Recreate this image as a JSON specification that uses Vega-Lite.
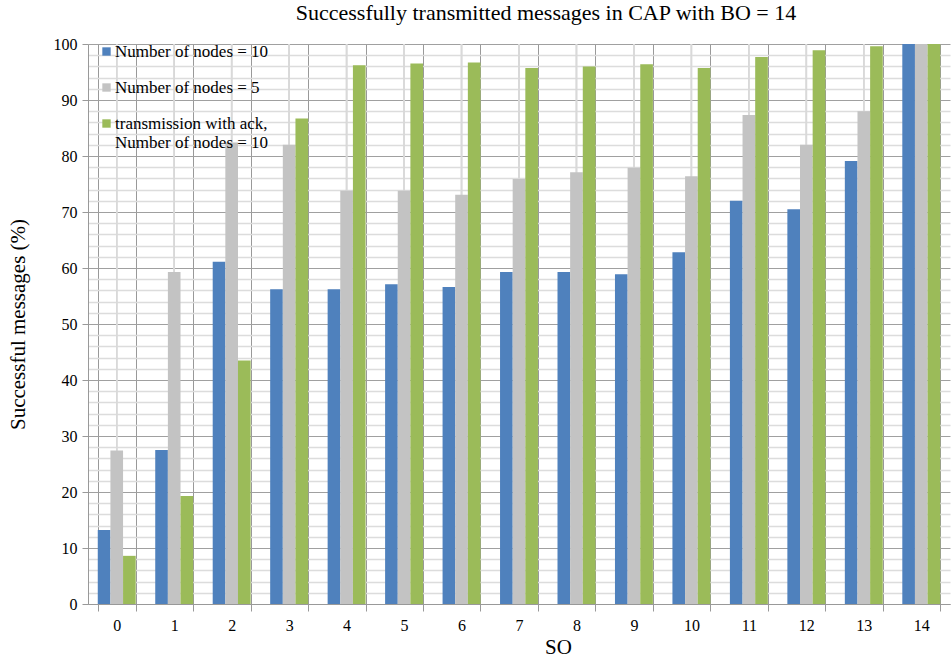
{
  "$schema": "https://vega.github.io/schema/vega-lite/v6.json",
  "width": 862,
  "height": 560,
  "autosize": {"type": "none"},
  "padding": {"left": 88, "top": 44, "right": 2, "bottom": 55},
  "background": "white",
  "title": {
    "text": "Successfully transmitted messages in CAP with BO = 14",
    "font": "Liberation Serif",
    "fontSize": 22,
    "fontWeight": "normal",
    "color": "#000000",
    "anchor": "middle",
    "dx": 27,
    "offset": 11
  },
  "config": {
    "view": {"stroke": null},
    "font": "Liberation Serif",
    "axis": {"titleFont": "Liberation Serif", "labelFont": "Liberation Serif"},
    "legend": {"labelFont": "Liberation Serif"}
  },
  "data": {
    "values": [
      {"SO": "0", "series": "Number of nodes = 10", "value": 13.2},
      {"SO": "0", "series": "Number of nodes = 5", "value": 27.4},
      {"SO": "0", "series": "transmission with ack, Number of nodes = 10", "value": 8.6},
      {"SO": "1", "series": "Number of nodes = 10", "value": 27.5},
      {"SO": "1", "series": "Number of nodes = 5", "value": 59.3},
      {"SO": "1", "series": "transmission with ack, Number of nodes = 10", "value": 19.3},
      {"SO": "2", "series": "Number of nodes = 10", "value": 61.1},
      {"SO": "2", "series": "Number of nodes = 5", "value": 82.4},
      {"SO": "2", "series": "transmission with ack, Number of nodes = 10", "value": 43.5},
      {"SO": "3", "series": "Number of nodes = 10", "value": 56.2},
      {"SO": "3", "series": "Number of nodes = 5", "value": 82.0},
      {"SO": "3", "series": "transmission with ack, Number of nodes = 10", "value": 86.7},
      {"SO": "4", "series": "Number of nodes = 10", "value": 56.2},
      {"SO": "4", "series": "Number of nodes = 5", "value": 73.8},
      {"SO": "4", "series": "transmission with ack, Number of nodes = 10", "value": 96.2},
      {"SO": "5", "series": "Number of nodes = 10", "value": 57.1},
      {"SO": "5", "series": "Number of nodes = 5", "value": 73.8},
      {"SO": "5", "series": "transmission with ack, Number of nodes = 10", "value": 96.5},
      {"SO": "6", "series": "Number of nodes = 10", "value": 56.6},
      {"SO": "6", "series": "Number of nodes = 5", "value": 73.1},
      {"SO": "6", "series": "transmission with ack, Number of nodes = 10", "value": 96.7},
      {"SO": "7", "series": "Number of nodes = 10", "value": 59.3},
      {"SO": "7", "series": "Number of nodes = 5", "value": 75.9},
      {"SO": "7", "series": "transmission with ack, Number of nodes = 10", "value": 95.7},
      {"SO": "8", "series": "Number of nodes = 10", "value": 59.3},
      {"SO": "8", "series": "Number of nodes = 5", "value": 77.1},
      {"SO": "8", "series": "transmission with ack, Number of nodes = 10", "value": 96.0},
      {"SO": "9", "series": "Number of nodes = 10", "value": 58.9},
      {"SO": "9", "series": "Number of nodes = 5", "value": 77.9},
      {"SO": "9", "series": "transmission with ack, Number of nodes = 10", "value": 96.4},
      {"SO": "10", "series": "Number of nodes = 10", "value": 62.8},
      {"SO": "10", "series": "Number of nodes = 5", "value": 76.4},
      {"SO": "10", "series": "transmission with ack, Number of nodes = 10", "value": 95.7},
      {"SO": "11", "series": "Number of nodes = 10", "value": 72.0},
      {"SO": "11", "series": "Number of nodes = 5", "value": 87.3},
      {"SO": "11", "series": "transmission with ack, Number of nodes = 10", "value": 97.7},
      {"SO": "12", "series": "Number of nodes = 10", "value": 70.5},
      {"SO": "12", "series": "Number of nodes = 5", "value": 82.0},
      {"SO": "12", "series": "transmission with ack, Number of nodes = 10", "value": 98.9},
      {"SO": "13", "series": "Number of nodes = 10", "value": 79.1},
      {"SO": "13", "series": "Number of nodes = 5", "value": 88.0},
      {"SO": "13", "series": "transmission with ack, Number of nodes = 10", "value": 99.6},
      {"SO": "14", "series": "Number of nodes = 10", "value": 100},
      {"SO": "14", "series": "Number of nodes = 5", "value": 100},
      {"SO": "14", "series": "transmission with ack, Number of nodes = 10", "value": 100}
    ]
  },
  "layer": [
    {
      "mark": {"type": "rule", "color": "#d9d9d9", "strokeWidth": 1.5},
      "encoding": {
        "x": {
          "field": "SO", "type": "nominal", "sort": null,
          "scale": {"paddingInner": 0.34, "paddingOuter": 0.17},
          "axis": {
            "title": "SO",
            "titleFont": "Liberation Serif",
            "titleFontSize": 21,
            "titleFontWeight": "normal",
            "titleColor": "#000000",
            "titleX": 470,
            "titleY": 43,
            "titleBaseline": "middle",
            "labelAngle": 0,
            "labelFont": "Liberation Serif",
            "labelFontSize": 16,
            "labelColor": "#000000",
            "labelPadding": 6,
            "tickBand": "extent",
            "tickColor": "#999999",
            "tickSize": 7,
            "domainColor": "#999999",
            "grid": true,
            "gridColor": "#999999",
            "gridWidth": 1
          }
        }
      }
    },
    {
      "mark": {"type": "bar"},
      "encoding": {
        "x": {
          "field": "SO", "type": "nominal", "sort": null,
          "scale": {"paddingInner": 0.34, "paddingOuter": 0.17}
        },
        "xOffset": {
          "field": "series", "type": "nominal",
          "scale": {"domain": ["Number of nodes = 10", "Number of nodes = 5", "transmission with ack, Number of nodes = 10"], "paddingInner": 0, "paddingOuter": 0}
        },
        "y": {
          "field": "value", "type": "quantitative",
          "scale": {"domain": [0, 100], "nice": false},
          "axis": {
            "title": "Successful messages (%)",
            "titleFont": "Liberation Serif",
            "titleFontSize": 21,
            "titleFontWeight": "normal",
            "titleColor": "#000000",
            "titleX": -70,
            "titleY": 280,
            "titleBaseline": "middle",
            "values": [0, 2, 4, 6, 8, 10, 12, 14, 16, 18, 20, 22, 24, 26, 28, 30, 32, 34, 36, 38, 40, 42, 44, 46, 48, 50, 52, 54, 56, 58, 60, 62, 64, 66, 68, 70, 72, 74, 76, 78, 80, 82, 84, 86, 88, 90, 92, 94, 96, 98, 100],
            "labelExpr": "datum.value % 10 === 0 ? datum.label : ''",
            "labelFont": "Liberation Serif",
            "labelFontSize": 16,
            "labelColor": "#000000",
            "labelPadding": 5,
            "tickSize": 6,
            "tickColor": {"condition": {"test": "datum.value % 10 === 0", "value": "#999999"}, "value": "transparent"},
            "domainColor": "#999999",
            "grid": true,
            "gridColor": {"condition": {"test": "datum.value % 10 === 0", "value": "#a0a0a0"}, "value": "#dcdcdc"},
            "gridWidth": {"condition": {"test": "datum.value % 10 === 0", "value": 1}, "value": 1.5}
          }
        },
        "color": {
          "field": "series", "type": "nominal",
          "scale": {
            "domain": ["Number of nodes = 10", "Number of nodes = 5", "transmission with ack, Number of nodes = 10"],
            "range": ["#4f81bd", "#c3c3c3", "#9bbb59"]
          },
          "legend": {
            "title": null,
            "orient": "none",
            "legendX": 10,
            "legendY": -1,
            "symbolType": "square",
            "symbolSize": 70,
            "symbolStrokeWidth": 0,
            "labelFont": "Liberation Serif",
            "labelFontSize": 17,
            "labelColor": "#000000",
            "labelOffset": 0,
            "rowPadding": 18,
            "labelLimit": 400,
            "labelExpr": "datum.label == 'transmission with ack, Number of nodes = 10' ? ['transmission with ack,', 'Number of nodes = 10'] : datum.label"
          }
        }
      }
    }
  ]
}
